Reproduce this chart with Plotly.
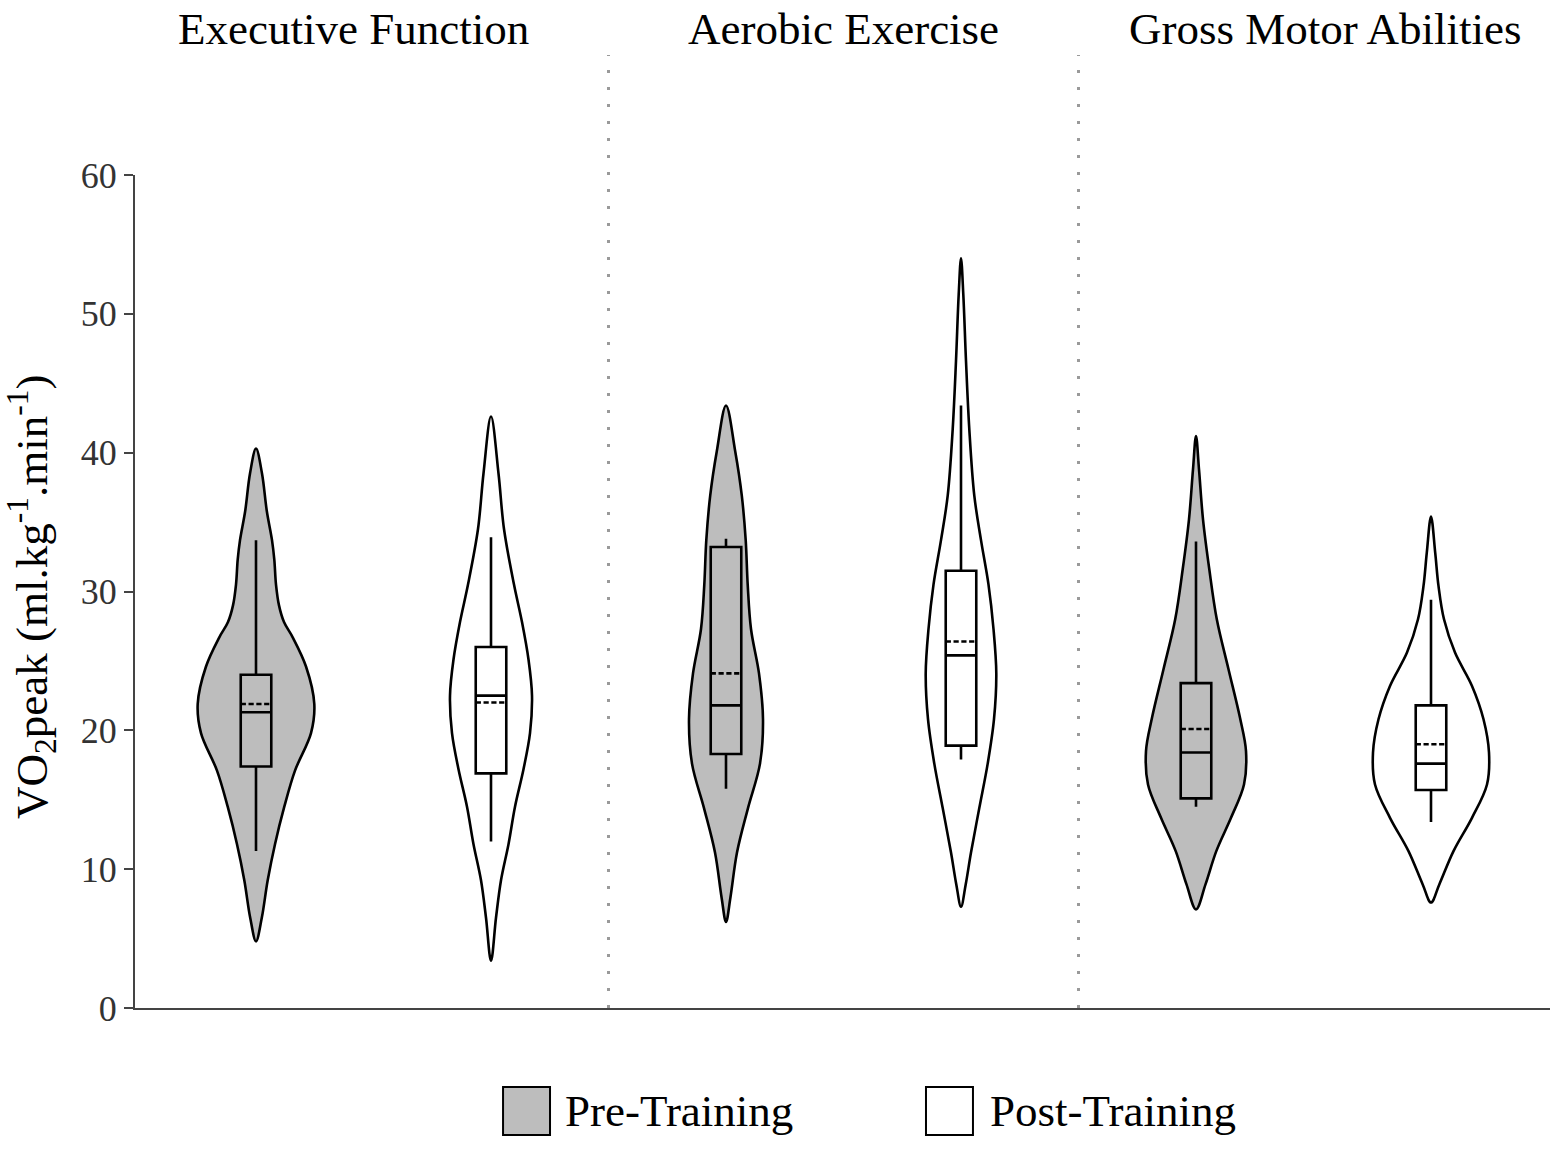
import plotly.graph_objects as go

# groups and phases, in drawing order (pre, post per group)
groups = ["Executive Function", "Aerobic Exercise", "Gross Motor Abilities"]
phases = ["Pre-Training", "Post-Training"]

# box statistics (ml.kg-1.min-1)
# order: EF pre, EF post, AE pre, AE post, GM pre, GM post
q1 = [17.4, 16.9, 18.3, 18.9, 15.1, 15.7]
median = [21.3, 22.5, 21.8, 25.4, 18.4, 17.6]
q3 = [24.0, 26.0, 33.2, 31.5, 23.4, 21.8]
mean = [21.9, 22.0, 24.1, 26.4, 20.1, 19.0]
whisk_lo = [11.3, 12.0, 15.8, 17.9, 14.5, 13.4]
whisk_hi = [33.7, 33.9, 33.8, 43.4, 33.6, 29.4]

# violin outlines: levels and density half-widths
ef_pre_y = [4.8, 6.5, 9.2, 11.8, 14.5, 17.1, 19.8, 21.9, 24.6, 26.7, 27.8, 29.0, 30.5, 32.3, 33.7, 35.8, 38.5, 40.3]
ef_pre_d = [0, 5.8, 11.7, 19.0, 28.3, 39.0, 55.0, 58.3, 50.0, 36.7, 28.0, 23.0, 20.0, 18.3, 16.0, 10.8, 6.0, 0]
ef_post_y = [3.4, 6.5, 9.2, 11.8, 14.5, 17.2, 19.8, 22.5, 25.1, 27.8, 30.5, 34.5, 38.5, 42.6]
ef_post_d = [0, 5.0, 10.0, 17.5, 24.0, 32.5, 39.0, 41.0, 37.5, 31.0, 23.0, 13.0, 7.5, 0]
ae_pre_y = [6.2, 8.0, 11.2, 14.4, 17.6, 20.8, 24.1, 27.3, 30.5, 33.7, 36.9, 40.1, 43.4]
ae_pre_d = [0, 4.5, 11.0, 22.0, 34.0, 37.0, 33.0, 25.0, 21.7, 19.7, 15.8, 9.2, 0]
ae_post_y = [7.3, 8.9, 11.2, 14.4, 17.6, 20.8, 24.1, 27.3, 30.5, 33.7, 36.9, 41.7, 46.6, 51.4, 54.0]
ae_post_d = [0, 4.7, 10.0, 18.3, 26.7, 33.0, 35.3, 32.5, 27.5, 20.0, 13.3, 8.3, 5.0, 2.3, 0]
gm_pre_y = [7.1, 8.9, 11.3, 13.7, 16.1, 18.5, 20.9, 24.4, 28.0, 31.6, 35.2, 38.8, 41.2]
gm_pre_d = [0, 9.5, 20.3, 35.0, 48.0, 50.0, 44.0, 32.5, 20.8, 13.3, 7.0, 3.0, 0]
gm_post_y = [7.6, 8.9, 11.3, 13.7, 16.1, 18.4, 20.8, 23.2, 25.6, 28.0, 30.4, 32.8, 35.4]
gm_post_d = [0, 8.3, 22.5, 41.0, 56.0, 58.0, 52.5, 41.0, 24.0, 13.0, 7.5, 4.2, 0]

violins = [(ef_pre_y, ef_pre_d), (ef_post_y, ef_post_d),
           (ae_pre_y, ae_pre_d), (ae_post_y, ae_post_d),
           (gm_pre_y, gm_pre_d), (gm_post_y, gm_post_d)]

GRAY = "#bdbdbd"
FONT = "Liberation Serif, Times New Roman, serif"
DENS_SCALE = 235.0  # density units per x unit
LW = 2.6
XR = [-0.5149, 5.5064]
YR = [0, 60]

fig = go.Figure()

for i, (vy, vd) in enumerate(violins):
    fill = GRAY if i % 2 == 0 else "white"
    right = [i + d / DENS_SCALE for d in vd]
    left = [i - d / DENS_SCALE for d in vd]
    xs = right + left[::-1][1:]
    ys = vy + vy[::-1][1:]
    fig.add_trace(go.Scatter(
        x=xs, y=ys, mode="lines", fill="toself", fillcolor=fill,
        line=dict(color="black", width=LW, shape="spline", smoothing=1.0),
        showlegend=False, hoverinfo="skip"))

# boxes go on an overlaid axis pair so they sit on top of the violin fills
for i in range(len(violins)):
    fill = GRAY if i % 2 == 0 else "white"
    fig.add_trace(go.Box(
        x=[i], q1=[q1[i]], median=[median[i]], q3=[q3[i]],
        lowerfence=[whisk_lo[i]], upperfence=[whisk_hi[i]], mean=[mean[i]],
        orientation="v", boxmean=True, width=0.13, whiskerwidth=0, fillcolor=fill,
        line=dict(color="black", width=LW), boxpoints=False,
        xaxis="x2", yaxis="y2", showlegend=False))

# dotted separators between groups
for sx in [1.5, 3.5]:
    fig.add_shape(type="line", xref="x", yref="paper", x0=sx, x1=sx, y0=0, y1=1.144,
                  line=dict(color="#9a9a9a", width=3, dash="3px,14px"), layer="below")

# group titles
title_x = [0.413, 2.498, 4.549]
for g, tx in zip(groups, title_x):
    fig.add_annotation(x=tx, y=1.208, xref="x", yref="paper", text=g, showarrow=False,
                       font=dict(family=FONT, size=45, color="black"), xanchor="center", yanchor="top")

# y axis title
fig.add_annotation(x=-0.0728, y=0.4934, xref="paper", yref="paper",
                   text="VO<sub>2</sub>peak (ml.kg<sup>-1</sup>.min<sup>-1</sup>)",
                   textangle=-90, showarrow=False, xanchor="center", yanchor="middle",
                   font=dict(family=FONT, size=45, color="black"))

# legend drawn by hand (square keys like the original)
legend_keys = [(0.2601, 0.2933, GRAY, 0.3025), (0.559, 0.5922, "white", 0.6025)]
for (x0, x1, col, tx), lab in zip(legend_keys, phases):
    fig.add_shape(type="rect", xref="paper", yref="paper", x0=x0, x1=x1, y0=-0.1525, y1=-0.0948,
                  fillcolor=col, line=dict(color="black", width=2))
    fig.add_annotation(x=tx, y=-0.1237, xref="paper", yref="paper", text=lab, showarrow=False,
                       xanchor="left", yanchor="middle",
                       font=dict(family=FONT, size=45, color="black"))

fig.update_layout(
    width=1559, height=1150,
    margin=dict(l=135, r=9, t=175, b=142),
    paper_bgcolor="white", plot_bgcolor="white",
    showlegend=False,
    xaxis=dict(range=XR, showgrid=False, zeroline=False, showticklabels=False,
               ticks="", showline=True, linecolor="#444444", linewidth=2),
    yaxis=dict(range=YR, tickvals=[0, 10, 20, 30, 40, 50, 60], showgrid=False, zeroline=False,
               showline=True, linecolor="#444444", linewidth=2, ticks="outside", ticklen=9,
               tickcolor="#444444", tickwidth=1.5,
               tickfont=dict(family=FONT, size=36, color="#333333")),
    xaxis2=dict(range=XR, overlaying="x", visible=False),
    yaxis2=dict(range=YR, overlaying="y", visible=False),
)

# drop the default body margin so the figure starts at the page corner
fig.write_html("out.html", config={"displayModeBar": False},
               post_script="document.body.style.margin='0';")
